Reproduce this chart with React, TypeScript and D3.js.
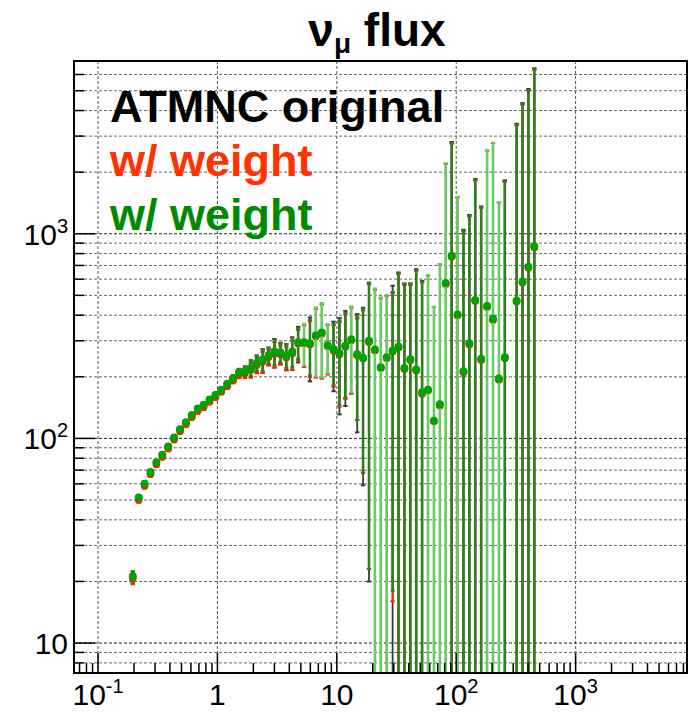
import React from "react";
import * as d3 from "d3";

// bin centres (GeV)
const energy = [
  0.1954, 0.219, 0.2454, 0.275, 0.3082, 0.3453, 0.387, 0.4337, 0.486, 0.5446,
  0.6103, 0.6839, 0.7666, 0.859, 0.9625, 1.079, 1.209, 1.355, 1.518, 1.701,
  1.906, 2.136, 2.394, 2.683, 3.006, 3.369, 3.776, 4.231, 4.742, 5.313,
  5.954, 6.673, 7.477, 8.379, 9.389, 10.52, 11.79, 13.21, 14.81, 16.59,
  18.6, 20.84, 23.35, 26.17, 29.33, 32.86, 36.83, 41.27, 46.25, 51.82,
  58.07, 65.07, 72.92, 81.71, 91.57, 102.6, 115.0, 128.9, 144.4, 161.9,
  181.4, 203.3, 227.8, 255.3, 286.1, 320.6, 359.3, 402.6, 451.2,
];

// "w/ weight" (green)
const greenVal = [
  21.2, 51.4, 60.1, 68.5, 76.4, 83.3, 91.4, 101, 111, 120,
  130, 140, 146, 155, 163, 173, 185, 197, 211, 213,
  221, 234, 243, 255, 266, 264, 254, 266, 295, 295,
  292, 319, 329, 285, 273, 261, 284, 305, 258, 248,
  300, 272, 223, 249, 269, 281, 221, 244, 217, 168,
  173, 122, 147, 575, 781, 403, 213, 292, 475, 245,
  443, 384, 196, 249, null, 471, 585, 690, 869,
];
const greenErr = [
  1.2, 1.5, 1.6, 1.8, 2.0, 2.2, 2.4, 2.6, 2.9, 3.1,
  3.4, 3.7, 4.0, 4.3, 4.7, 5.1, 5.6, 6.2, 8, 11,
  19, 20, 29, 22, 38, 28, 33, 43, 50, 68,
  89, 118, 130, 77, 90, 116, 126, 137, 135, 180,
  277, 269, 266, 253, 251, 362, 347, 325, 448, 416,
  455, 318, 565, 1638, 1998, 1112, 821, 932, 1359, 1099,
  2117, 2405, 1231, 1550, null, 2931, 3709, 4350, 5491,
];

// "w/ weight" (red)
const redVal = [
  20.6, 50.0, 58.5, 66.8, 74.5, 81.2, 89.1, 98.6, 108, 117,
  127, 136, 142, 151, 159, 169, 180, 192, 205, 208,
  216, 228, 237, 249, 259, 257, 248, 259, 290, 290,
  287, 314, 324, 281, 268, 257, 280, 300, 254, 245,
  295, 268, 220, 246, 265, 277, 218, 240, 214, 165,
  171, 121, 144, 567, 770, 397, 210, 287, 468, 241,
  437, 378, 193, 246, null, 465, 577, 680, 857,
];
const redErr = [
  1.2, 1.5, 1.6, 1.8, 2.0, 2.2, 2.4, 2.6, 2.9, 3.1,
  3.4, 3.7, 4.0, 4.3, 4.7, 5.0, 5.5, 6.1, 8, 11,
  18, 20, 28, 22, 37, 28, 32, 42, 49, 67,
  88, 116, 128, 76, 89, 114, 124, 135, 131, 177,
  272, 265, 263, 250, 249, 358, 344, 321, 445, 413,
  453, 317, 562, 1630, 1987, 1106, 818, 927, 1352, 1095,
  2111, 2399, 1228, 1547, null, 2925, 3701, 4340, 5479,
];

// "ATMNC original" (black)
const blackVal = [
  21.0, 51.0, 59.6, 68.0, 75.8, 82.6, 90.7, 100, 110, 119,
  129, 139, 145, 154, 162, 172, 184, 196, 209, 212,
  220, 232, 241, 253, 264, 262, 252, 264, 293, null,
  290, null, null, null, 271, 259, 282, null, 256, 247,
  298, null, null, null, 267, 279, 220, 242, 216, 167,
  null, null, null, null, 777, null, 212, 290, 472, 244,
  null, null, null, 248, null, 469, 582, 686, 864,
];
const blackErr = [
  1.4, 1.8, 1.9, 2.1, 2.3, 2.5, 2.7, 3.0, 3.3, 3.5,
  3.8, 4.1, 4.4, 4.8, 5.2, 5.6, 6.2, 6.9, 9, 13,
  21, 22, 32, 25, 42, 31, 37, 48, 58, null,
  100, null, null, null, 101, 128, 138, null, 149, 188,
  278, null, null, null, 290, 368, 352, 330, 455, 422,
  null, null, null, null, 2030, null, 834, 946, 1380, 1116,
  null, null, null, 1575, null, 2975, 3765, 4415, 5573,
];

const xDecades = [0.1, 1, 10, 100, 1000];
const xLabels = [
  { b: "10", e: "-1" },
  { b: "1", e: "" },
  { b: "10", e: "" },
  { b: "10", e: "2" },
  { b: "10", e: "3" },
];
const yDecades = [10, 100, 1000];
const yLabels = [
  { b: "10", e: "" },
  { b: "10", e: "2" },
  { b: "10", e: "3" },
];
const legendItems = ["ATMNC original", "w/ weight", "w/ weight"];

const FONT = "'Liberation Sans', Arial, Helvetica, sans-serif";

export default function App() {
  const left = 74, right = 687, top = 61, bottom = 673;
  const x = d3.scaleLog().domain([0.0629, 8570]).range([left, right]);
  const y = d3.scaleLog().domain([7.14, 6985]).range([bottom, top]);
  const [xd0, xd1] = x.domain();
  const [yd0, yd1] = y.domain();

  const minors = (lo: number, hi: number) => {
    const out: { v: number; major: boolean }[] = [];
    for (let d = Math.floor(Math.log10(lo)); d <= Math.ceil(Math.log10(hi)); d++) {
      for (let k = 1; k <= 9; k++) {
        const v = k * Math.pow(10, d);
        if (v >= lo && v <= hi) out.push({ v, major: k === 1 });
      }
    }
    return out;
  };
  const xTicks = minors(xd0, xd1);
  const yTicks = minors(yd0, yd1);

  const GREEN = "#00a300";
  const RED = "#ff2200";

  const bars = (
    vals: (number | null)[],
    errs: (number | null)[],
    color: (i: number) => string,
    width: number,
    capW: number,
    key: string
  ) =>
    vals.map((v, i) => {
      const e = errs[i];
      if (v == null || e == null) return null;
      const hiV = v + e;
      const loV = v - e;
      const y1 = y(hiV);
      const y2 = loV > 0 ? y(loV) : bottom + 5;
      const cx = x(energy[i]);
      const c = color(i);
      return (
        <g key={key + i}>
          <line x1={cx} x2={cx} y1={y1} y2={y2} stroke={c} strokeWidth={width} />
          <line x1={cx - capW} x2={cx + capW} y1={y1} y2={y1} stroke={c} strokeWidth={2} />
          {loV > 0 && (
            <line x1={cx - capW} x2={cx + capW} y1={y2} y2={y2} stroke={c} strokeWidth={2} />
          )}
        </g>
      );
    });

  const markers = (vals: (number | null)[], color: string, r: number, key: string) =>
    vals.map((v, i) =>
      v == null ? null : (
        <circle key={key + i} cx={x(energy[i])} cy={y(v)} r={r} fill={color} />
      )
    );

  return (
    <svg
      width={690}
      height={720}
      style={{ position: "absolute", left: 0, top: 0, background: "#fff" }}
      fontFamily={FONT}
    >
      <defs>
        <clipPath id="plot">
          <rect x={left} y={top} width={right - left} height={bottom - top} />
        </clipPath>
      </defs>
      <rect x={0} y={0} width={690} height={720} fill="#fff" />

      {/* grid */}
      <g stroke="#555" strokeWidth={1} strokeDasharray="3,2" fill="none">
        {xDecades.map((d) => (
          <line key={"gx" + d} x1={x(d)} x2={x(d)} y1={top} y2={bottom} />
        ))}
        {yTicks.map((t) => (
          <line
            key={"gy" + t.v}
            x1={left}
            x2={right}
            y1={y(t.v)}
            y2={y(t.v)}
            stroke={t.major ? "#222" : "#666"}
          />
        ))}
      </g>

      {/* data */}
      <g clipPath="url(#plot)">
        {bars(blackVal, blackErr, () => "#3a3a3a", 1.8, 2.2, "kb")}
        {markers(blackVal, "#000", 3.6, "km")}
        {bars(redVal, redErr, () => RED, 1.8, 2.2, "rb")}
        {markers(redVal, RED, 3.8, "rm")}
        {bars(
          greenVal,
          greenErr,
          (i) => (blackVal[i] != null ? "#2e7f1e" : "#66cc66"),
          2.6,
          2.0,
          "gb"
        )}
        {markers(greenVal, GREEN, 4, "gm")}
      </g>

      {/* frame */}
      <rect x={left} y={top} width={right - left} height={bottom - top} fill="none" stroke="#000" strokeWidth={2} />

      {/* ticks */}
      <g stroke="#000" strokeWidth={1.5}>
        {xTicks.map((t) => (
          <line key={"tx" + t.v} x1={x(t.v)} x2={x(t.v)} y1={bottom} y2={bottom - (t.major ? 20 : 10)} />
        ))}
        {yTicks.map((t) => (
          <line key={"ty" + t.v} x1={left} x2={left + (t.major ? 21 : 10)} y1={y(t.v)} y2={y(t.v)} />
        ))}
      </g>

      {/* tick labels */}
      <g fontSize={30} fill="#000">
        {xDecades.map((d, i) => (
          <text key={"lx" + d} x={x(d)} y={705} textAnchor="middle">
            {xLabels[i].b}
            {xLabels[i].e && (
              <tspan fontSize={20} dy={-12}>
                {xLabels[i].e}
              </tspan>
            )}
          </text>
        ))}
        {yDecades.map((d, i) => (
          <text key={"ly" + d} x={68} y={y(d) + 11} textAnchor="end">
            {yLabels[i].b}
            {yLabels[i].e && (
              <tspan fontSize={20} dy={-12}>
                {yLabels[i].e}
              </tspan>
            )}
          </text>
        ))}
      </g>

      {/* title */}
      <text x={377} y={46} textAnchor="middle" fontSize={46} fontWeight="bold" fill="#000">
        ν
        <tspan fontSize={28} dy={7}>μ</tspan>
        <tspan dy={-7}> flux</tspan>
      </text>

      {/* legend */}
      <g fontSize={45} fontWeight="bold">
        <text x={110} y={122} fill="#000">{legendItems[0]}</text>
        <text x={110} y={176} fill="#ff3300">{legendItems[1]}</text>
        <text x={110} y={230} fill="#008a00">{legendItems[2]}</text>
      </g>
    </svg>
  );
}
